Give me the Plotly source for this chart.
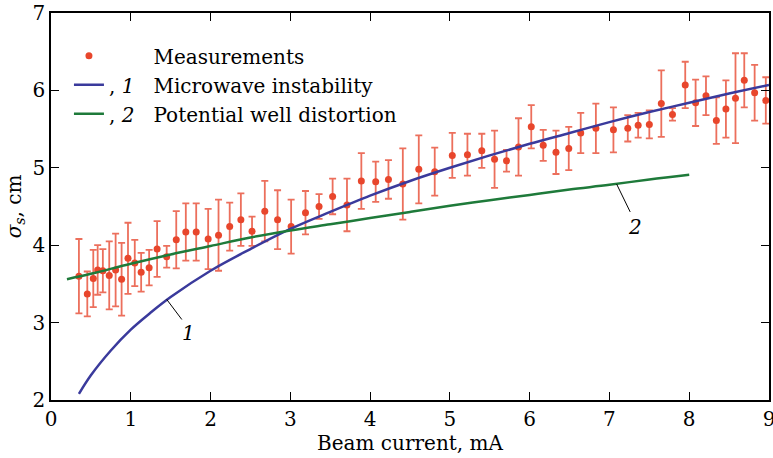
import plotly.graph_objects as go

# Measurements
meas_x = [0.35, 0.455, 0.53, 0.585, 0.65, 0.73, 0.81, 0.885, 0.965, 1.05,
          1.13, 1.23, 1.33, 1.45, 1.57, 1.69, 1.82, 1.97, 2.10, 2.24,
          2.38, 2.52, 2.68, 2.84, 3.01, 3.19, 3.36, 3.53, 3.71, 3.89,
          4.07, 4.23, 4.41, 4.61, 4.81, 5.03, 5.22, 5.40, 5.56, 5.71,
          5.86, 6.02, 6.17, 6.33, 6.49, 6.64, 6.83, 7.05, 7.23, 7.36,
          7.50, 7.65, 7.79, 7.95, 8.08, 8.21, 8.34, 8.46, 8.58, 8.69,
          8.82, 8.96]
meas_y = [3.60, 3.37, 3.57, 3.68, 3.67, 3.61, 3.68, 3.56, 3.83, 3.77,
          3.65, 3.71, 3.95, 3.85, 4.07, 4.17, 4.17, 4.08, 4.13, 4.24,
          4.33, 4.18, 4.44, 4.33, 4.24, 4.42, 4.50, 4.63, 4.52, 4.83,
          4.82, 4.85, 4.79, 4.98, 4.95, 5.16, 5.17, 5.22, 5.11, 5.09,
          5.27, 5.53, 5.29, 5.20, 5.25, 5.45, 5.51, 5.49, 5.51, 5.55,
          5.56, 5.83, 5.69, 6.07, 5.84, 5.93, 5.61, 5.76, 5.90, 6.13,
          5.97, 5.87]
meas_err = [0.48, 0.29, 0.37, 0.32, 0.28, 0.44, 0.47, 0.47, 0.46, 0.30,
            0.25, 0.23, 0.36, 0.14, 0.37, 0.37, 0.37, 0.39, 0.46, 0.31,
            0.34, 0.19, 0.39, 0.38, 0.35, 0.28, 0.16, 0.23, 0.34, 0.36,
            0.26, 0.25, 0.46, 0.44, 0.31, 0.29, 0.27, 0.22, 0.37, 0.14,
            0.37, 0.28, 0.20, 0.28, 0.28, 0.26, 0.32, 0.29, 0.17, 0.16,
            0.18, 0.43, 0.08, 0.30, 0.30, 0.25, 0.30, 0.37, 0.58, 0.35,
            0.36, 0.30]

# Curve 1: microwave instability
mw_x = [0.35, 0.5, 0.75, 1.0, 1.25, 1.5, 2.0, 2.5, 3.0, 3.5, 4.0, 4.5,
        5.0, 5.5, 6.0, 6.5, 7.0, 7.5, 8.0, 8.5, 9.0]
mw_y = [2.08, 2.32, 2.64, 2.91, 3.13, 3.33, 3.67, 3.95, 4.21, 4.43, 4.64,
        4.83, 5.00, 5.16, 5.31, 5.45, 5.59, 5.72, 5.84, 5.96, 6.07]

# Curve 2: potential well distortion
pw_x = [0.2, 0.5, 1.0, 1.5, 2.0, 2.5, 3.0, 3.5, 4.0, 4.5, 5.0, 5.5, 6.0,
        6.5, 7.0, 7.5, 8.0]
pw_y = [3.56, 3.63, 3.76, 3.88, 3.99, 4.10, 4.19, 4.27, 4.35, 4.43, 4.51,
        4.58, 4.65, 4.72, 4.78, 4.85, 4.91]

x_ticks = [0, 1, 2, 3, 4, 5, 6, 7, 8, 9]
y_ticks = [2, 3, 4, 5, 6, 7]

FONT = "DejaVu Serif"
NB = "&nbsp;"

fig = go.Figure()
fig.add_trace(go.Scatter(
    x=meas_x, y=meas_y, mode="markers",
    name=NB * 7 + "Measurements",
    marker=dict(color="#e8462c", size=7),
    error_y=dict(type="data", array=meas_err, color="#ec6f5c",
                 thickness=1.8, width=3.5),
))
fig.add_trace(go.Scatter(
    x=mw_x, y=mw_y, mode="lines", line_shape="spline",
    name=", <i>1</i>" + NB * 3 + "Microwave instability",
    line=dict(color="#3a3a9c", width=2.5),
))
fig.add_trace(go.Scatter(
    x=pw_x, y=pw_y, mode="lines", line_shape="spline",
    name=", <i>2</i>" + NB * 3 + "Potential well distortion",
    line=dict(color="#1e7a3a", width=2.5),
))

# leader lines for curve labels
fig.add_shape(type="line", x0=1.45, y0=3.30, x1=1.64, y1=3.04,
              line=dict(color="black", width=1))
fig.add_shape(type="line", x0=7.09, y0=4.79, x1=7.26, y1=4.43,
              line=dict(color="black", width=1))
fig.add_annotation(x=1.72, y=2.86, text="<i>1</i>", showarrow=False,
                   font=dict(family=FONT, size=20, color="black"))
fig.add_annotation(x=7.32, y=4.24, text="<i>2</i>", showarrow=False,
                   font=dict(family=FONT, size=20, color="black"))

axis_common = dict(
    showline=True, linecolor="black", linewidth=1.5, mirror="ticks",
    ticks="inside", ticklen=8, tickwidth=1.2, tickcolor="black",
    showgrid=False, zeroline=False, automargin=False,
    tickfont=dict(family=FONT, size=20, color="black"),
)

fig.update_layout(
    width=773, height=458,
    margin=dict(l=51, r=4, t=13, b=58),
    paper_bgcolor="white", plot_bgcolor="white",
    font=dict(family=FONT, size=20, color="black"),
    showlegend=True,
    legend=dict(x=0.025, y=0.94, xanchor="left", yanchor="top",
                bgcolor="rgba(0,0,0,0)", font=dict(family=FONT, size=20),
                itemwidth=30, tracegroupgap=0),
    xaxis=dict(range=[0, 9], tickvals=x_ticks, ticklabeloverflow="allow",
               title=dict(text="Beam current, mA", standoff=4,
                          font=dict(family=FONT, size=20)),
               **axis_common),
    yaxis=dict(range=[2, 7], tickvals=y_ticks,
               title=dict(text="<i>σ</i><sub><i>s</i></sub>, cm", standoff=6,
                          font=dict(family=FONT, size=20)),
               **axis_common),
)

fig.write_html("out.html")
